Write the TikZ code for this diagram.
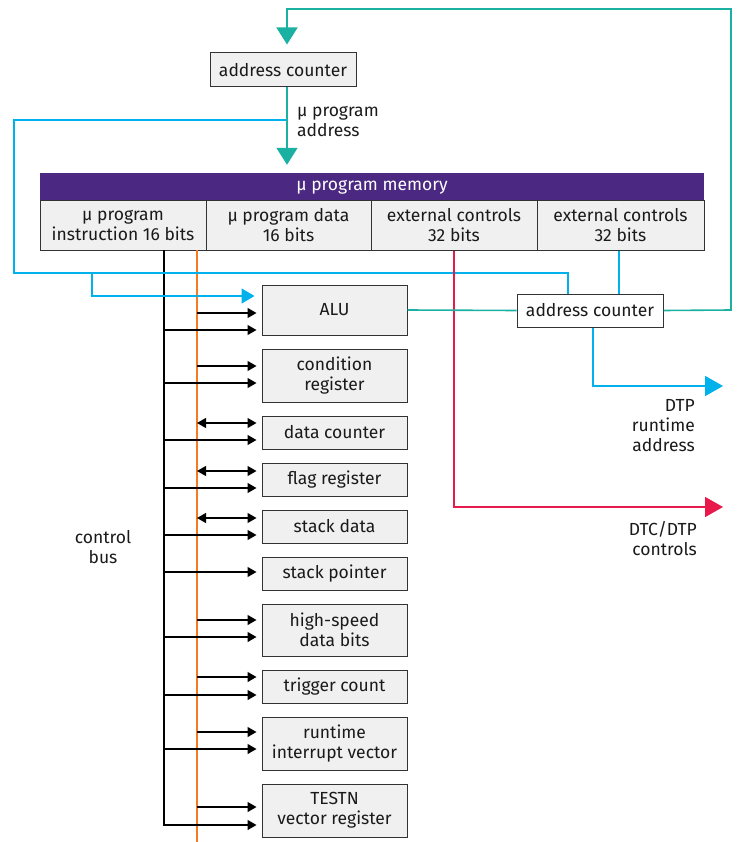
\documentclass[tikz,border=0pt]{standalone}
\usepackage{fontspec}
\setmainfont{Fira Sans}
\usetikzlibrary{arrows.meta}
\definecolor{tealc}{HTML}{1BB1A2}
\definecolor{cyanc}{HTML}{00B1EB}
\definecolor{redc}{HTML}{E8194B}
\definecolor{orangec}{HTML}{F47B20}
\definecolor{purplec}{HTML}{4B2882}
\definecolor{boxfill}{HTML}{F0F0F0}
\definecolor{edgec}{HTML}{333333}
\definecolor{textc}{HTML}{1A1A1A}
\begin{document}
\begin{tikzpicture}[x=1pt,y=-1pt,
  font=\fontsize{17.5}{20}\selectfont, text=textc,
  regbox/.style={draw=edgec, line width=1pt, fill=boxfill, minimum width=145pt, align=center, inner sep=0pt},
  field/.style={draw=edgec, line width=1pt, fill=boxfill, minimum height=49pt, align=center, inner sep=0pt},
  blk/.style={line width=1.3pt, draw=black, -{Triangle[length=9pt,width=10pt]}, shorten >=5pt},
  dbl/.style={line width=1.3pt, draw=black, {Triangle[length=9pt,width=10pt]}-{Triangle[length=9pt,width=10pt]}, shorten >=5pt},
  tealln/.style={line width=1.6pt, draw=tealc},
  cyanln/.style={line width=1.6pt, draw=cyanc},
  bigtip/.style={-{Triangle[length=17pt,width=21pt]}},
  lbl/.style={inner sep=0pt}
]
\useasboundingbox (0,0) rectangle (737,842);

% top address counter
\node[regbox, minimum width=146pt, minimum height=34pt] (topac) at (283,70) {address counter};

% memory
\node[fill=purplec, minimum width=664pt, minimum height=28pt, inner sep=0pt, text=white] (mem) at (372,187) {μ program memory};
\node[field, minimum width=166pt] (f1) at (123,225.5) {μ program\\instruction 16 bits};
\node[field, minimum width=165pt] (f2) at (288.5,225.5) {μ program data\\16 bits};
\node[field, minimum width=166pt] (f3) at (454,225.5) {external controls\\32 bits};
\node[field, minimum width=167pt] (f4) at (620.5,225.5) {external controls\\32 bits};

% right address counter
\node[regbox, fill=white, minimum width=146pt, minimum height=33pt] (ac2) at (590,310.5) {address counter};

% registers
\node[regbox, minimum height=50pt] (alu) at (334.5,310) {ALU};
\node[regbox, minimum height=53pt] (cond) at (334.5,375.5) {condition\\register};
\node[regbox, minimum height=33pt] (dcnt) at (334.5,432.5) {data counter};
\node[regbox, minimum height=33pt] (flag) at (334.5,479.5) {flag register};
\node[regbox, minimum height=33pt] (sdata) at (334.5,526.5) {stack data};
\node[regbox, minimum height=33pt] (sptr) at (334.5,573.5) {stack pointer};
\node[regbox, minimum height=52pt] (hs) at (334.5,630) {high-speed\\data bits};
\node[regbox, minimum height=33pt] (trig) at (334.5,686.5) {trigger count};
\node[regbox, minimum height=53pt] (rt) at (334.5,743.5) {runtime\\interrupt vector};
\node[regbox, minimum height=53pt] (testn) at (334.5,810.5) {TESTN\\vector register};

% labels
\node[lbl, align=left, anchor=west] (lpa) at (297,121) {μ program\\address};
\node[lbl, align=right, anchor=east] (ldtp) at (695,426) {DTP\\runtime\\address};
\node[lbl, align=right, anchor=east] (ldtc) at (697,539) {DTC/DTP\\controls};
\node[lbl, align=center] (lbus) at (103,547) {control\\bus};

% free ends
\coordinate (dtpend) at (723,386);
\coordinate (redend) at (723,507);
\coordinate (bk) at (164,250);
\coordinate (orn) at (197,250);

% buses
\draw[line width=1.6pt, draw=orangec] (orn) -- (197,842);
\draw[blk] (bk) -- (164,825) -- (testn.west |- 0,825);

% bus arrows
\foreach \n/\yo in {alu/313, cond/366, hs/620, trig/677, rt/732, testn/807}{
  \draw[blk] (197,\yo) -- (\n.west |- 0,\yo);
}
\foreach \n/\yb in {alu/330, cond/383, dcnt/440, flag/488, sdata/535, sptr/572, hs/637, trig/695, rt/749}{
  \draw[blk] (164,\yb) -- (\n.west |- 0,\yb);
}
\foreach \n/\yo in {dcnt/423, flag/471, sdata/518}{
  \draw[dbl] (197,\yo) -- (\n.west |- 0,\yo);
}

% blue lines
\draw[cyanln] (287,120) -- (14,120) -- (14,273) -- (568,273) -- (ac2.north -| 568,0);
\draw[cyanln, -{Triangle[length=13pt,width=15pt]}, shorten >=7pt] (92,273) -- (92,296) -- (alu.west |- 0,296);
\draw[cyanln] (f4.south -| 619,0) -- (ac2.north -| 619,0);
\draw[cyanln, -{Triangle[length=18pt,width=20pt]}] (ac2.south -| 593,0) -- (593,386) -- (dtpend);

% red line
\draw[line width=1.6pt, draw=redc, -{Triangle[length=18pt,width=20pt]}] (f3.south) -- (454,507) -- (redend);

% teal lines
\draw[tealln] (alu.east) -- (ac2.west);
\draw[tealln, bigtip, shorten >=8pt] (ac2.east) -- (731,310) -- (731,9) -- (287,9) -- (topac.north -| 287,0);
\draw[tealln, bigtip, shorten >=8pt] (topac.south -| 287,0) -- (mem.north -| 287,0);
\end{tikzpicture}
\end{document}
